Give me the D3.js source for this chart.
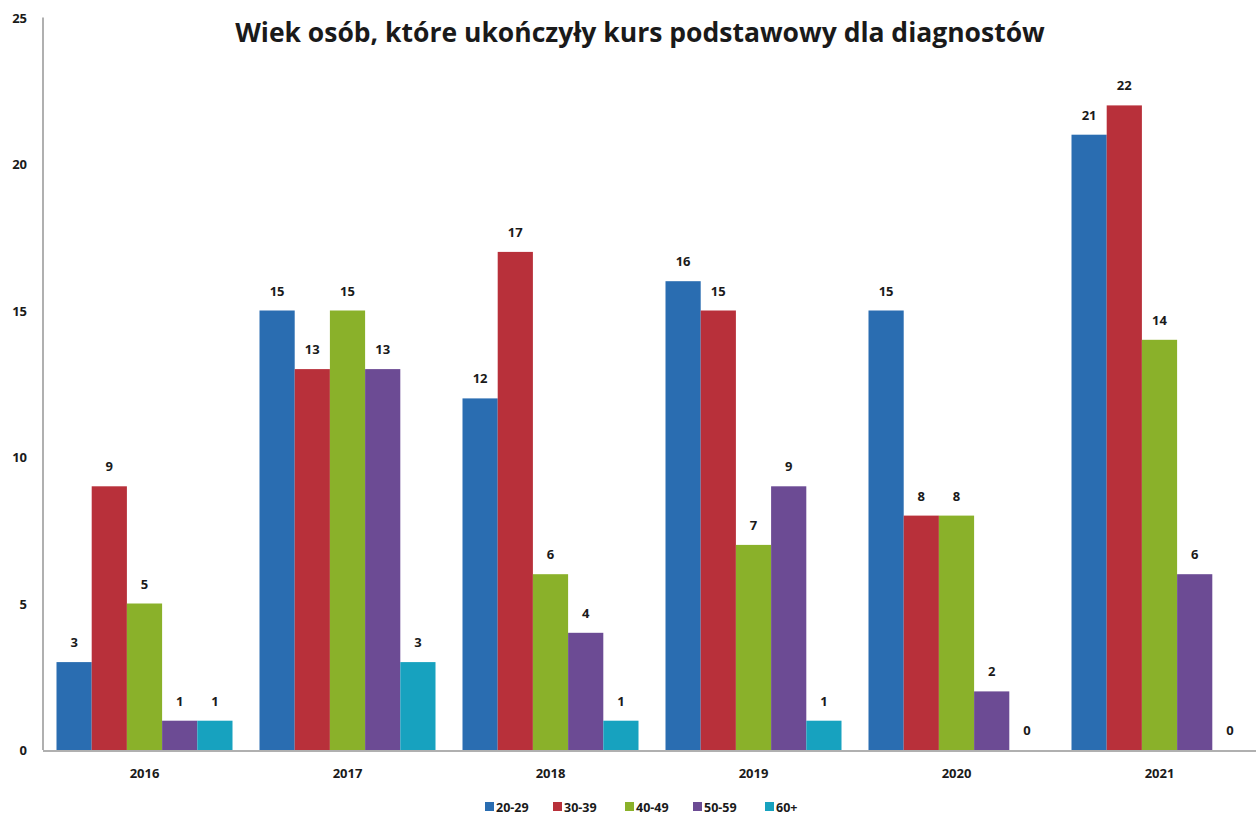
<!DOCTYPE html>
<html>
<head>
<meta charset="utf-8">
<script src="https://cdn.jsdelivr.net/npm/d3@7"></script>
<style>
  body { margin: 0; background: #fff; }
  text { font-family: "Open Sans", sans-serif; font-weight: bold; fill: #1a1a1a; }
</style>
</head>
<body>
<div id="chart"></div>
<script>
// chart data
var years = ["2016", "2017", "2018", "2019", "2020", "2021"];
var groups = ["20-29", "30-39", "40-49", "50-59", "60+"];
var v2029 = [3, 15, 12, 16, 15, 21];
var v3039 = [9, 13, 17, 15, 8, 22];
var v4049 = [5, 15, 6, 7, 8, 14];
var v5059 = [1, 13, 4, 9, 2, 6];
var v60 = [1, 3, 1, 1, 0, 0];
var yTicks = [0, 5, 10, 15, 20, 25];
var colors = ["#2a6db1", "#b8303a", "#8ab12a", "#6c4b94", "#17a2bf"];

var width = 1256;
var height = 816;

var seriesValues = [v2029, v3039, v4049, v5059, v60];

var svg = d3
  .select("#chart")
  .append("svg")
  .attr("width", width)
  .attr("height", height);

var plotLeft = 43;
var plotBottom = 750;

var x0 = d3.scaleBand().domain(years).range([plotLeft, plotLeft + 6 * 203]);
var x1 = d3.scaleBand().domain(groups).range([13.5, 189.5]);
var y = d3.scaleLinear().domain([0, 25]).range([plotBottom, 17.5]);

// title
svg
  .append("text")
  .attr("x", 640)
  .attr("y", 42)
  .attr("text-anchor", "middle")
  .style("font-size", "26.5px")
  .text("Wiek osób, które ukończyły kurs podstawowy dla diagnostów");

// y axis labels
svg
  .selectAll(".yLabel")
  .data(yTicks)
  .enter()
  .append("text")
  .attr("class", "yLabel")
  .attr("x", 27)
  .attr("y", function (d) {
    return y(d) + 5;
  })
  .attr("text-anchor", "end")
  .style("font-size", "13px")
  .text(function (d) {
    return d;
  });

// bars
var yearGroups = svg
  .selectAll(".year")
  .data(years)
  .enter()
  .append("g")
  .attr("class", "year")
  .attr("transform", function (d) {
    return "translate(" + x0(d) + ",0)";
  });

yearGroups
  .selectAll("rect")
  .data(function (d, i) {
    return groups.map(function (g, j) {
      return { group: g, value: seriesValues[j][i], color: colors[j] };
    });
  })
  .enter()
  .append("rect")
  .attr("x", function (d) {
    return x1(d.group);
  })
  .attr("y", function (d) {
    return y(d.value);
  })
  .attr("width", x1.bandwidth())
  .attr("height", function (d) {
    return plotBottom - y(d.value);
  })
  .attr("fill", function (d) {
    return d.color;
  });

yearGroups
  .selectAll(".valLabel")
  .data(function (d, i) {
    return groups.map(function (g, j) {
      return { group: g, value: seriesValues[j][i] };
    });
  })
  .enter()
  .append("text")
  .attr("class", "valLabel")
  .attr("x", function (d) {
    return x1(d.group) + x1.bandwidth() / 2;
  })
  .attr("y", function (d) {
    return y(d.value) - 15;
  })
  .attr("text-anchor", "middle")
  .style("font-size", "13px")
  .text(function (d) {
    return d.value;
  });

// axes lines
svg
  .append("line")
  .attr("x1", plotLeft)
  .attr("x2", plotLeft)
  .attr("y1", y(25))
  .attr("y2", plotBottom)
  .attr("stroke", "#b0b0b0")
  .attr("stroke-width", 2);

svg
  .append("line")
  .attr("x1", plotLeft)
  .attr("x2", width)
  .attr("y1", plotBottom + 1)
  .attr("y2", plotBottom + 1)
  .attr("stroke", "#b0b0b0")
  .attr("stroke-width", 2);

// x labels
svg
  .selectAll(".xLabel")
  .data(years)
  .enter()
  .append("text")
  .attr("class", "xLabel")
  .attr("x", function (d) {
    return x0(d) + x0.bandwidth() / 2;
  })
  .attr("y", 778)
  .attr("text-anchor", "middle")
  .style("font-size", "13px")
  .text(function (d) {
    return d;
  });

// legend
var legendX = [485, 553, 625, 693, 765];
var legend = svg
  .selectAll(".legend")
  .data(groups)
  .enter()
  .append("g")
  .attr("class", "legend")
  .attr("transform", function (d, i) {
    return "translate(" + legendX[i] + ",802)";
  });

legend
  .append("rect")
  .attr("width", 9)
  .attr("height", 9)
  .attr("fill", function (d, i) {
    return colors[i];
  });

legend
  .append("text")
  .attr("x", 11)
  .attr("y", 9.5)
  .style("font-size", "12.5px")
  .text(function (d) {
    return d;
  });
</script>
</body>
</html>
